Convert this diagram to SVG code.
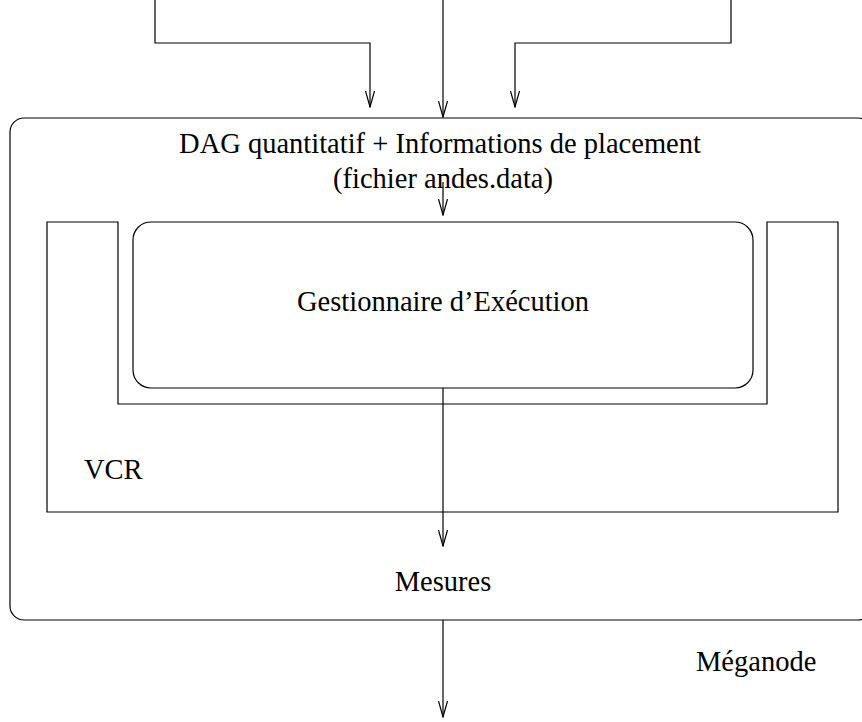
<svg xmlns="http://www.w3.org/2000/svg" width="862" height="722" viewBox="0 0 862 722">
<style>
.ln{fill:none;stroke:#000;stroke-width:1.2}
.box{fill:none;stroke:#000;stroke-width:1.2}
.t{font-family:"Liberation Serif","Times New Roman",serif;font-size:28.5px;fill:#000}
</style>
<defs>
<marker id="ah" markerWidth="17" markerHeight="10" refX="16" refY="5" orient="auto" markerUnits="userSpaceOnUse" viewBox="0 0 17 10">
<path d="M0,0.5 L16,5 L0,9.5" fill="none" stroke="#000" stroke-width="1.2"/>
</marker>
</defs>
<rect width="862" height="722" fill="#fff"/>
<g id="meganode">
<rect class="box" x="10" y="118" width="862" height="502" rx="14"/>
<text class="t" x="440" y="153" text-anchor="middle">DAG quantitatif + Informations de placement</text>
<text class="t" x="443" y="188" text-anchor="middle">(fichier andes.data)</text>
<text class="t" x="696" y="671">Méganode</text>
</g>
<g id="vcr">
<path class="box" d="M47,222 H118 V404 H767 V222 H838 V512 H47 Z"/>
<text class="t" x="84" y="479">VCR</text>
</g>
<g id="gestionnaire">
<rect class="box" x="133" y="222" width="620" height="166" rx="18"/>
<text class="t" x="443" y="311" text-anchor="middle">Gestionnaire d’Exécution</text>
</g>
<g id="mesures">
<text class="t" x="443" y="591" text-anchor="middle">Mesures</text>
</g>
<g id="connectors">
<path class="ln" d="M155,0 V43 H370 V107" marker-end="url(#ah)"/>
<path class="ln" d="M443,0 V117" marker-end="url(#ah)"/>
<path class="ln" d="M731,0 V43 H515 V107" marker-end="url(#ah)"/>
<path class="ln" d="M443,182 V215" marker-end="url(#ah)"/>
<path class="ln" d="M443,388 V546" marker-end="url(#ah)"/>
<path class="ln" d="M443,620 V717" marker-end="url(#ah)"/>
</g>
</svg>
